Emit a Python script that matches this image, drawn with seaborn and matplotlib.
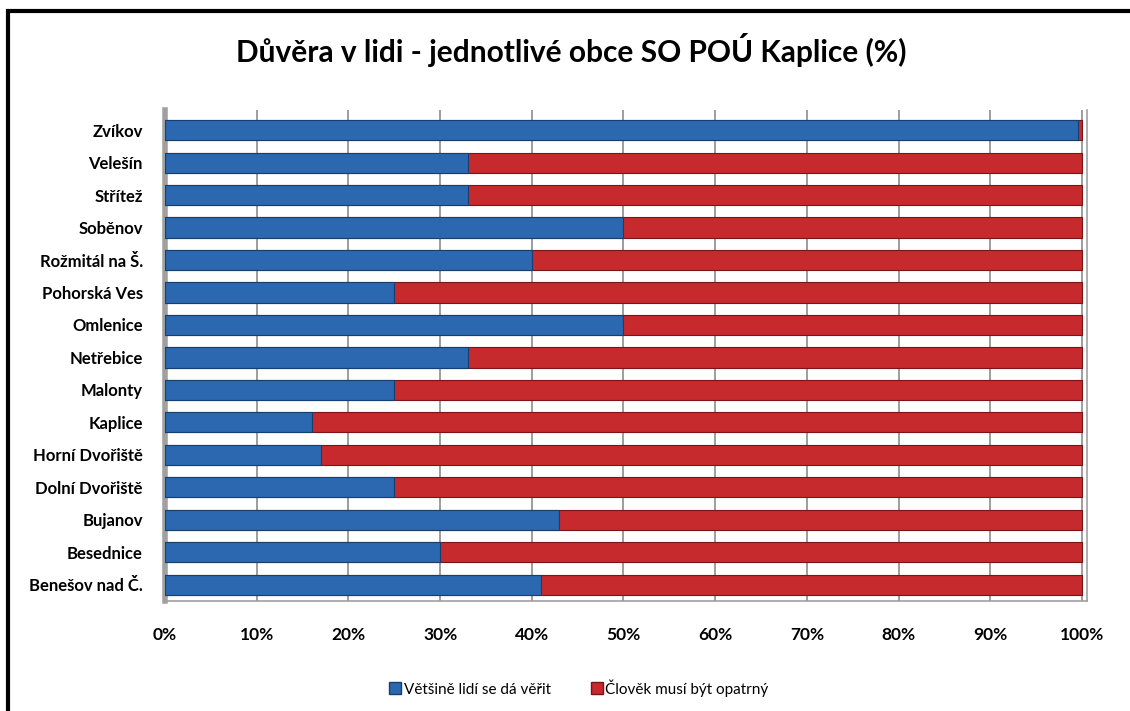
import matplotlib
matplotlib.use("Agg")
import matplotlib.pyplot as plt
import seaborn as sns
import pandas as pd
from matplotlib.patches import Rectangle
from matplotlib.lines import Line2D

categories = ["Zvíkov", "Velešín", "Střítež", "Soběnov", "Rožmitál na Š.", "Pohorská Ves",
              "Omlenice", "Netřebice", "Malonty", "Kaplice", "Horní Dvořiště",
              "Dolní Dvořiště", "Bujanov", "Besednice", "Benešov nad Č."]
trust = [99.6, 33, 33, 50, 40, 25, 50, 33, 25, 16, 17, 25, 43, 30, 41]
careful = [0.4, 67, 67, 50, 60, 75, 50, 67, 75, 84, 83, 75, 57, 70, 59]
series_names = ["Většině lidí se dá věřit", "Člověk musí být opatrný"]
xticks = [0, 10, 20, 30, 40, 50, 60, 70, 80, 90, 100]
xtick_labels = [f"{v}%" for v in xticks]
title = "Důvěra v lidi - jednotlivé obce SO POÚ Kaplice (%)"

blue = "#2B68AF"
red = "#C62A2C"

sns.set_theme(style="white")
plt.rcParams['font.family'] = ['Lato', 'DejaVu Sans']
plt.rcParams['text.color'] = 'black'
plt.rcParams['xtick.color'] = 'black'
plt.rcParams['ytick.color'] = 'black'

df = pd.DataFrame({"obec": categories, "trust": trust, "careful": careful})
df["total"] = df["trust"] + df["careful"]

fig = plt.figure(figsize=(11.3, 7.11), dpi=100)
ax = fig.add_axes([165/1130, 1 - 601/711, (1087-165)/1130, (601-110)/711])

sns.barplot(data=df, y="obec", x="total", color=red, ax=ax, width=0.62,
            edgecolor="#7A1416", linewidth=0.8, orient="h", saturation=1, zorder=3)
sns.barplot(data=df, y="obec", x="trust", color=blue, ax=ax, width=0.62,
            edgecolor="#163F70", linewidth=0.8, orient="h", saturation=1, zorder=4)

ax.set_ylim(14.5, -0.62)
ax.set_xlim(0, 100.55)
ax.set_xticks(xticks)
ax.set_xticklabels(xtick_labels, fontsize=12.5, fontweight="bold")
ax.tick_params(axis="x", pad=19, length=0, colors="black")
ax.tick_params(axis="y", length=0, pad=16, colors="black")
for lbl in ax.get_yticklabels():
    lbl.set_fontsize(12)
    lbl.set_fontweight("bold")
ax.set_xlabel("")
ax.set_ylabel("")
ax.grid(axis="x", color="#8C8C8C", linewidth=1.2, zorder=0)
ax.set_axisbelow(True)
ax.spines["top"].set_visible(False)
ax.spines["right"].set_color("#A0A0A0")
ax.spines["right"].set_linewidth(1.2)
ax.spines["left"].set_color("#A0A0A0")
ax.spines["left"].set_linewidth(4)
ax.spines["bottom"].set_color("#A0A0A0")
ax.spines["bottom"].set_linewidth(1.2)

fig.text(571/1130, 1 - 50/711, title, ha="center", va="center",
         fontsize=21.5, fontweight="bold", color="black")

handles = [Line2D([0], [0], marker="s", linestyle="none", markersize=8,
                  markerfacecolor=blue, markeredgecolor="#163F70"),
           Line2D([0], [0], marker="s", linestyle="none", markersize=8,
                  markerfacecolor=red, markeredgecolor="#7A1416")]
fig.legend(handles, series_names, loc="center", bbox_to_anchor=(578/1130, 1 - 688/711),
           ncol=2, frameon=False, fontsize=11, handletextpad=0.05, columnspacing=2.5,
           handlelength=1.0)

fig.patches.append(Rectangle((8/1130, -0.05), 1.2, 1 - 11/711 + 0.05,
                             transform=fig.transFigure, fill=False,
                             edgecolor="black", linewidth=3))

fig.savefig("out.png", dpi=100, facecolor="white")
